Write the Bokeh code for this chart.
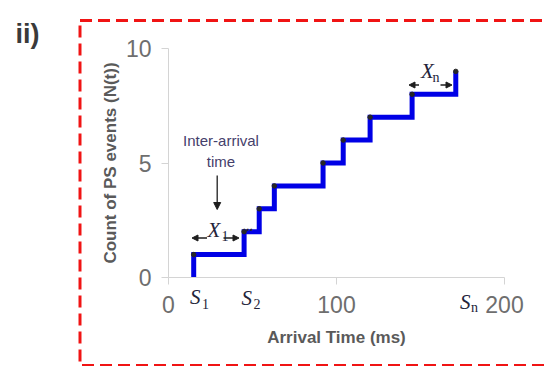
from bokeh.plotting import figure
from bokeh.models import (LinearAxis, FixedTicker, Label, Arrow, NormalHead,
                          BoxAnnotation, Range1d)
from bokeh.embed import file_html
from bokeh.resources import INLINE

# ---- data ----
arrival_times = [15, 45, 54, 63, 92, 104, 120, 145, 171]   # S_i (ms)
counts = [1, 2, 3, 4, 5, 6, 7, 8, 9]                        # N(t)
x_ticks = [0, 100, 200]
y_ticks = [0, 5, 10]
x_label = "Arrival Time (ms)"
y_label = "Count of PS events (N(t))"

# ---- pixel <-> data mapping for a full-canvas frame ----
W, H = 545, 366
X0, XS = 168.0, 1.68     # pixel of x=0, px per ms
Y0, YS = 277.0, 22.9     # pixel of y=0, px per count


def fx(px):
    return (px - X0) / XS


def fy(py):
    return (Y0 - py) / YS


p = figure(width=W, height=H, output_backend="svg", toolbar_location=None,
           x_axis_type=None, y_axis_type=None, min_border=0,
           x_range=Range1d(fx(0), fx(W)), y_range=Range1d(fy(H), fy(0)))
p.outline_line_color = None
p.grid.visible = False
p.background_fill_color = "white"
p.border_fill_color = "white"

TICK_COLOR = "#6e6e6e"
AX_COLOR = "#d4d4d4"
LAB_COLOR = "#5a5a5a"

xa = LinearAxis(fixed_location=0, bounds=(0, 200), ticker=FixedTicker(ticks=x_ticks),
                axis_label=x_label)
ya = LinearAxis(fixed_location=0, bounds=(0, 10), ticker=FixedTicker(ticks=y_ticks),
                axis_label=y_label)
for ax in (xa, ya):
    ax.axis_line_color = AX_COLOR
    ax.axis_line_width = 1
    ax.major_tick_line_color = AX_COLOR
    ax.major_tick_out = 7
    ax.major_tick_in = 0
    ax.minor_tick_line_color = None
    ax.major_label_text_font = "Liberation Sans"
    ax.major_label_text_font_size = "23px"
    ax.major_label_text_color = TICK_COLOR
    ax.axis_label_text_font = "Liberation Sans"
    ax.axis_label_text_font_size = "17px"
    ax.axis_label_text_font_style = "bold"
    ax.axis_label_text_color = LAB_COLOR
xa.major_label_standoff = 11
xa.axis_label_standoff = 12
ya.major_label_standoff = 10
ya.axis_label_standoff = 3
p.add_layout(xa, "below")
p.add_layout(ya, "left")

# ---- step line ----
step_x = [arrival_times[0]] + arrival_times
step_y = [0] + counts
p.step(step_x, step_y, mode="after", line_color="#0000e6", line_width=5,
       line_join="miter")
p.scatter(arrival_times, counts, size=4.5, color="#262626")

# ---- red dashed frame ----
p.add_layout(BoxAnnotation(left=fx(79.5), right=fx(580), top=fy(20), bottom=fy(365),
                           fill_color=None, fill_alpha=0, line_color="#f01414",
                           line_alpha=1.0, line_width=3, line_dash="12 6"))

# ---- panel tag ----
p.add_layout(Label(x=fx(15), y=fy(33.5), text="ii)", text_font="Liberation Sans",
                   text_font_style="bold", text_font_size="27px",
                   text_color="#3a3a3a", text_baseline="alphabetic"))

# ---- annotation text ----
ANN = "#45406b"
p.add_layout(Label(x=fx(220.5), y=fy(140), text="Inter-arrival", text_align="center",
                   text_baseline="middle", text_font="Liberation Sans",
                   text_font_size="15px", text_color=ANN))
p.add_layout(Label(x=fx(220.5), y=fy(161), text="time", text_align="center",
                   text_baseline="middle", text_font="Liberation Sans",
                   text_font_size="15px", text_color=ANN))

MATH = "#24243a"


def math_label(main, sub, lx, lby, sx, sby, size="21px", subsize="14px"):
    p.add_layout(Label(x=fx(lx), y=fy(lby), text=main, text_font="Liberation Serif",
                       text_font_style="italic", text_font_size=size,
                       text_color=MATH, text_baseline="alphabetic"))
    p.add_layout(Label(x=fx(sx), y=fy(sby), text=sub, text_font="Liberation Serif",
                       text_font_size=subsize, text_color=MATH,
                       text_baseline="alphabetic"))


math_label("X", "1", 207, 229, 221, 235)
math_label("X", "n", 420.5, 70.5, 432, 77)
math_label("S", "1", 189.5, 296.5, 201.5, 303)
math_label("S", "2", 241, 297, 253, 303.5)
math_label("S", "n", 459.5, 301, 470.5, 306.5)

p.add_layout(Label(x=fx(242), y=fy(225.5), text="...", text_font="Liberation Serif",
                   text_font_style="bold", text_font_size="14px", text_color=MATH,
                   text_baseline="alphabetic"))

# ---- arrows ----
def arrow(x0, y0, x1, y1, size=6):
    p.add_layout(Arrow(x_start=fx(x0), y_start=fy(y0), x_end=fx(x1), y_end=fy(y1),
                       line_color="#1e1e1e", line_width=1.3,
                       end=NormalHead(size=size, fill_color="#1e1e1e",
                                      line_color="#1e1e1e")))


arrow(216.7, 175, 216.7, 209, 7)
arrow(206.5, 237.5, 191.5, 237.5)
arrow(223, 237.5, 238.5, 237.5)
arrow(418.5, 84.5, 408.5, 84.5)
arrow(440, 84.5, 451.5, 84.5)

open("out.html", "w").write(file_html(p, INLINE))
